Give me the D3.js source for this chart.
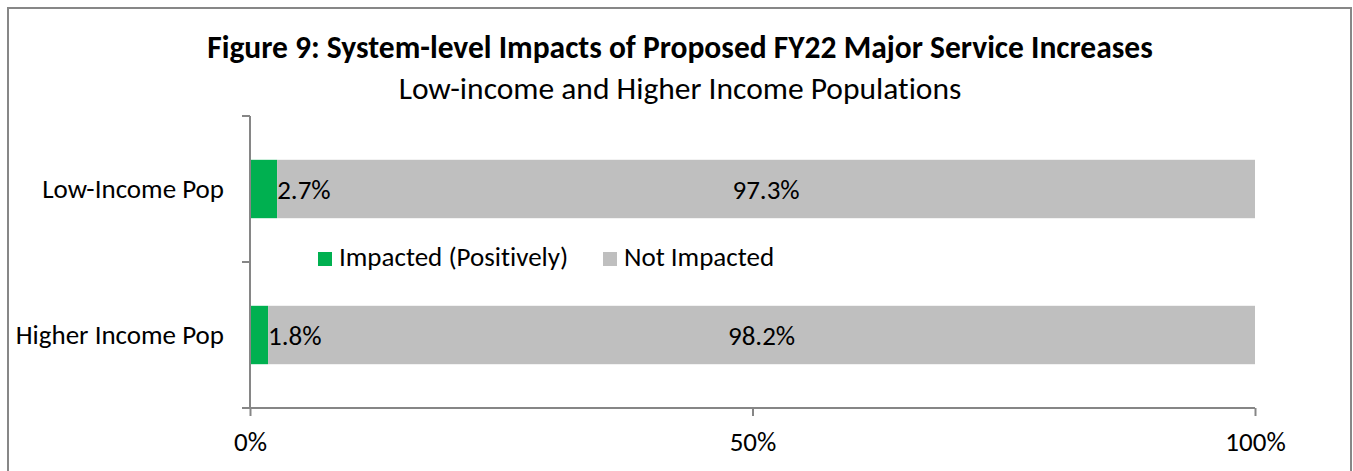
<!DOCTYPE html>
<html>
<head>
<meta charset="utf-8">
<script src="https://cdn.jsdelivr.net/npm/d3@7"></script>
<style>
  body { margin: 0; background: #fff; }
  svg text { font-family: Carlito, Calibri, Lato, sans-serif; fill: #000; font-variant-ligatures: none; }
</style>
</head>
<body>
<div id="chart"></div>
<script>
// chart data
const categories = ["Low-Income Pop", "Higher Income Pop"];
const seriesNames = ["Impacted (Positively)", "Not Impacted"];
const impacted = [0.027, 0.018];
const notImpacted = [0.973, 0.982];
const xTicks = [0, 0.5, 1];
const xTickLabels = ["0%", "50%", "100%"];
const colors = ["#00B050", "#BFBFBF"];

const width = 1353, height = 471;
const margin = {top: 116, right: 98, bottom: 63, left: 250};

const svg = d3.select("#chart").append("svg")
    .attr("width", width)
    .attr("height", height);

// outer chart frame (bottom edge falls outside the picture)
svg.append("rect")
    .attr("x", 8).attr("y", 8)
    .attr("width", 1343).attr("height", 480)
    .attr("fill", "none")
    .attr("stroke", "#878787")
    .attr("stroke-width", 2);

// titles
svg.append("text")
    .attr("x", 680).attr("y", 58)
    .attr("text-anchor", "middle")
    .style("font-size", "31.5px")
    .style("font-weight", "bold")
    .text("Figure 9: System-level Impacts of Proposed FY22 Major Service Increases");

svg.append("text")
    .attr("x", 680).attr("y", 99)
    .attr("text-anchor", "middle")
    .style("font-size", "31.5px")
    .text("Low-income and Higher Income Populations");

const x = d3.scaleLinear()
    .domain([0, 1])
    .range([margin.left, width - margin.right]);

const y = d3.scaleBand()
    .domain(categories)
    .range([margin.top, height - margin.bottom])
    .paddingInner(0.6)
    .paddingOuter(0.3);

const rows = categories.map((c, i) => ({
    category: c,
    values: [impacted[i], notImpacted[i]]
}));

// stacked segments
const segs = [];
rows.forEach(r => {
    let start = 0;
    r.values.forEach((v, k) => {
        segs.push({category: r.category, k: k, x0: start, x1: start + v, value: v});
        start += v;
    });
});

svg.selectAll(".bar")
    .data(segs)
    .enter()
    .append("rect")
    .attr("class", "bar")
    .attr("x", d => x(d.x0))
    .attr("width", d => x(d.x1) - x(d.x0))
    .attr("y", d => y(d.category))
    .attr("height", y.bandwidth())
    .attr("fill", d => colors[d.k]);

// value labels
svg.selectAll(".value-label")
    .data(segs)
    .enter()
    .append("text")
    .attr("class", "value-label")
    .attr("x", d => d.k === 0 ? x(d.x1) : x((d.x0 + d.x1) / 2))
    .attr("y", d => y(d.category) + y.bandwidth() / 2 + 10)
    .attr("text-anchor", d => d.k === 0 ? "start" : "middle")
    .style("font-size", "27px")
    .text(d => (d.value * 100).toFixed(1) + "%");

// y axis: ticks at band boundaries
const yEdges = [margin.top, (y(categories[0]) + y.bandwidth() + y(categories[1])) / 2, height - margin.bottom];
const axisColor = "#868686";

svg.append("line")
    .attr("x1", x(0)).attr("x2", x(0))
    .attr("y1", yEdges[0]).attr("y2", yEdges[2])
    .attr("stroke", axisColor).attr("stroke-width", 2);

svg.selectAll(".ytick")
    .data(yEdges)
    .enter()
    .append("line")
    .attr("class", "ytick")
    .attr("x1", x(0) - 8).attr("x2", x(0))
    .attr("y1", d => d).attr("y2", d => d)
    .attr("stroke", axisColor).attr("stroke-width", 2);

svg.selectAll(".ylabel")
    .data(categories)
    .enter()
    .append("text")
    .attr("class", "ylabel")
    .attr("x", x(0) - 26)
    .attr("y", d => y(d) + y.bandwidth() / 2 + 9)
    .attr("text-anchor", "end")
    .style("font-size", "27px")
    .text(d => d);

// x axis
const xAxis = svg.append("g")
    .attr("transform", `translate(0,${height - margin.bottom})`)
    .call(d3.axisBottom(x)
        .tickValues(xTicks)
        .tickFormat((d, i) => xTickLabels[i])
        .tickSize(8)
        .tickSizeOuter(0)
        .tickPadding(16));

xAxis.select(".domain").attr("stroke", axisColor).attr("stroke-width", 2)
    .attr("d", `M${x(0) - 8},0H${x(1)}`);
xAxis.selectAll(".tick line").attr("stroke", axisColor).attr("stroke-width", 2);
xAxis.selectAll(".tick text")
    .style("font-size", "27px")
    .style("font-family", "Carlito, Calibri, Lato, sans-serif")
    .attr("fill", "#000");

// legend
const legendX = [318, 603];
const legend = svg.selectAll(".legend")
    .data(seriesNames)
    .enter()
    .append("g")
    .attr("class", "legend")
    .attr("transform", (d, i) => `translate(${legendX[i]},252)`);

legend.append("rect")
    .attr("width", 14).attr("height", 14)
    .attr("fill", (d, i) => colors[i]);

legend.append("text")
    .attr("x", 21).attr("y", 14)
    .style("font-size", "27px")
    .text(d => d);
</script>
</body>
</html>
